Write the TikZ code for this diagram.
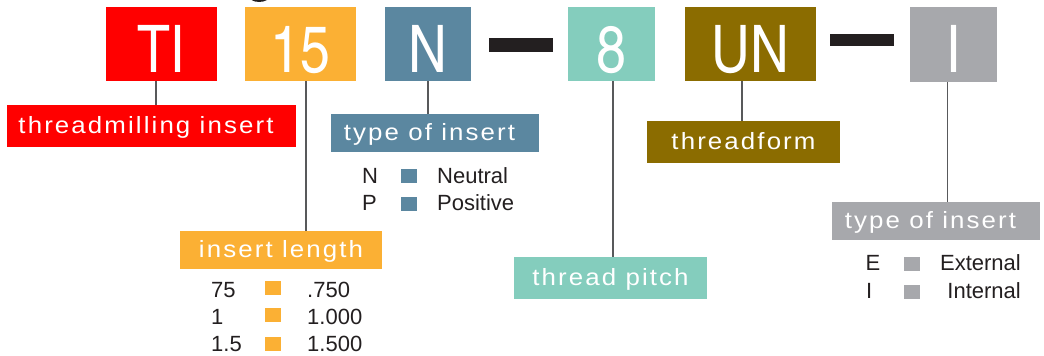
\documentclass[tikz,border=0pt]{standalone}
\usepackage{graphicx}
\usepackage{fontspec}
\setmainfont{Liberation Sans}
\newfontfamily\lblfont[LetterSpace=9,FakeStretch=1.1]{Liberation Sans}
\newfontfamily\bigfont{TeX Gyre Heros Cn}
\usetikzlibrary{calc}
\definecolor{cred}{RGB}{255,0,0}
\definecolor{corange}{RGB}{251,176,52}
\definecolor{cblue}{RGB}{91,135,160}
\definecolor{cteal}{RGB}{132,205,189}
\definecolor{colive}{RGB}{139,108,0}
\definecolor{cgray}{RGB}{167,168,172}
\definecolor{cdark}{RGB}{35,31,32}
\definecolor{cline}{RGB}{88,89,91}
\begin{document}
\begin{tikzpicture}[x=1pt,y=-1pt,
  code/.style={fill=#1, inner sep=0pt, text=white, font=\fontsize{65.6}{66}\bigfont, text height=56pt, text depth=0pt},
  lbl/.style={fill=#1, inner sep=0pt, text=white, font=\fontsize{23.5}{24}\lblfont, text height=17pt, text depth=2pt},
  sq/.style={fill=#1, inner sep=0pt, minimum width=16pt, minimum height=14pt},
  leg/.style={text=cdark, font=\fontsize{22}{22}\selectfont, inner sep=0pt},
  conn/.style={draw=cline, line width=1.6pt},
  bar/.style={fill=cdark, inner sep=0pt}]
\useasboundingbox (0,0) rectangle (1044,356);

% fragment of a cut-off title
\fill[cdark] (251.5,0) .. controls (255,2.6) and (263,2.6) .. (267,0) -- cycle;

% code boxes
\node[code=cred, minimum width=111pt, minimum height=74pt] (TI) at (161.5,44) {TI};
\node[code=corange, minimum width=111pt, minimum height=74pt] (n15) at (300.5,44) {15};
\node[code=cblue, minimum width=86pt, minimum height=74pt] (N) at (428,44) {N};
\node[bar, minimum width=64pt, minimum height=14pt] (d1) at (521,45) {};
\node[code=cteal, minimum width=87pt, minimum height=74pt] (n8) at (611.5,44) {8};
\node[code=colive, minimum width=131pt, minimum height=74pt] (UN) at (750.5,44) {UN};
\node[bar, minimum width=64pt, minimum height=12pt] (d2) at (862,40) {};
\node[code=cgray, minimum width=87pt, minimum height=75pt] (I) at (953.5,44.5) {I};

% labels
\node[lbl=cred, minimum width=289pt, minimum height=42pt] (L1) at (151.5,126) {threadmilling insert\hspace*{11pt}};
\node[lbl=cblue, minimum width=208pt, minimum height=38pt] (L2) at (435,133) {type of insert\hspace*{11pt}};
\node[lbl=corange, minimum width=202pt, minimum height=38pt] (L3) at (281,250) {insert length};
\node[lbl=cteal, minimum width=193pt, minimum height=42pt] (L4) at (610.5,278) {thread pitch};
\node[lbl=colive, minimum width=193pt, minimum height=42pt] (L5) at (743.5,142) {threadform};
\node[lbl=cgray, minimum width=208pt, minimum height=38pt] (L6) at (936,221) {type of insert\hspace*{11pt}};

% connectors
\draw[conn] ([xshift=-5.5pt]TI.south) -- ([xshift=-5.5pt]TI.south |- L1.north);
\draw[conn] ([xshift=5.5pt]n15.south) -- ([xshift=5.5pt]n15.south |- L3.north);
\draw[conn] (N.south) -- (N.south |- L2.north);
\draw[conn] ([xshift=1.5pt]n8.south) -- ([xshift=1.5pt]n8.south |- L4.north);
\draw[conn] ([xshift=-8.5pt]UN.south) -- ([xshift=-8.5pt]UN.south |- L5.north);
\draw[conn] ([xshift=-6pt]I.south) -- ([xshift=-6pt]I.south |- L6.north);

% legend: type of insert (N/P)
\node[leg, anchor=base west] (kN) at (362,183) {N};
\node[sq=cblue] (sN) at (409,176) {};
\node[leg, anchor=base west] (tN) at (437,183) {Neutral};
\node[leg, anchor=base west] (kP) at (362,210) {P};
\node[sq=cblue] (sP) at (409,204) {};
\node[leg, anchor=base west] (tP) at (437,210) {Positive};

% legend: insert length
\node[leg, anchor=base west] (k75) at (211,297.3) {75};
\node[sq=corange] (s75) at (272.5,288) {};
\node[leg, anchor=base west] (t75) at (307,297.3) {.750};
\node[leg, anchor=base west] (k1) at (211,324) {1};
\node[sq=corange] (s1) at (272.5,315) {};
\node[leg, anchor=base west] (t1) at (307,324) {1.000};
\node[leg, anchor=base west] (k15) at (211,351) {1.5};
\node[sq=corange] (s15) at (272.5,344) {};
\node[leg, anchor=base west] (t15) at (307,351) {1.500};

% legend: type of insert (E/I)
\node[leg, anchor=base west] (kE) at (865.5,270.7) {E};
\node[sq=cgray] (sE) at (912,263.7) {};
\node[leg, anchor=base east] (tE) at (1021,270.7) {External};
\node[leg, anchor=base west] (kI) at (866,298.3) {I};
\node[sq=cgray] (sI) at (912,292) {};
\node[leg, anchor=base east] (tI) at (1021,298.3) {Internal};
\end{tikzpicture}
\end{document}
